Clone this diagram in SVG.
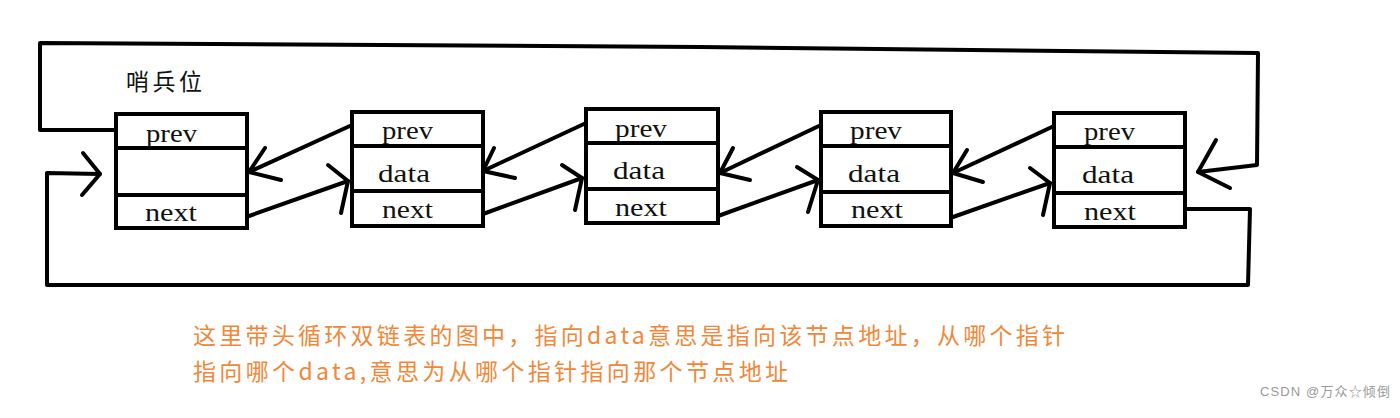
<svg xmlns="http://www.w3.org/2000/svg" width="1400" height="418" viewBox="0 0 1400 418">
<style>
.box{fill:#fff;stroke:#000;stroke-width:4}
.div{stroke:#000;stroke-width:4}
.ln{fill:none;stroke:#000;stroke-width:4;stroke-linecap:round;stroke-linejoin:round}
.lbl{font-family:"Liberation Serif","DejaVu Serif",serif;font-size:25px;fill:#111}
.note{font-family:"Noto Sans CJK SC",sans-serif;font-size:23px;fill:#F0883A}
.title{font-family:"Noto Sans CJK SC",sans-serif;font-size:23px;fill:#111}
.wm{font-family:"Liberation Sans","Noto Sans CJK SC",sans-serif;font-size:13px;fill:#999}
</style>
<rect width="1400" height="418" fill="#fff"/>
<text class="title" x="126" y="90" textLength="76">哨兵位</text>
<g id="connectors">
  <polyline class="ln" points="116,130 40,130 40,43 700,47 1258,53 1257,165 1198,172"/>
  <polyline class="ln" points="1216,140 1198,172 1230,188"/>
  <polyline class="ln" points="1185,209 1250,209 1248,285 47,285 47,173 100,174"/>
  <polyline class="ln" points="83,153 100,174 82,195"/>
  <line class="ln" x1="352" y1="125" x2="249" y2="172"/>
  <polyline class="ln" points="265,148 249,172 281,180"/>
  <line class="ln" x1="249" y1="216" x2="348" y2="181"/>
  <polyline class="ln" points="328,165 348,181 341,213"/>
  <line class="ln" x1="586" y1="123" x2="483" y2="171"/>
  <polyline class="ln" points="494,148 483,171 515,178"/>
  <line class="ln" x1="483" y1="214" x2="582" y2="178"/>
  <polyline class="ln" points="562,165 582,178 575,210"/>
  <line class="ln" x1="821" y1="125" x2="720" y2="173"/>
  <polyline class="ln" points="733,148 720,173 750,180"/>
  <line class="ln" x1="718" y1="216" x2="818" y2="180"/>
  <polyline class="ln" points="797,167 818,180 808,212"/>
  <line class="ln" x1="1054" y1="126" x2="953" y2="173"/>
  <polyline class="ln" points="967,150 953,173 983,182"/>
  <line class="ln" x1="953" y1="217" x2="1050" y2="183"/>
  <polyline class="ln" points="1030,168 1050,183 1043,215"/>
</g>
<g id="node1">
  <rect class="box" x="116" y="114" width="131" height="114"/>
  <line class="div" x1="116" y1="148" x2="247" y2="148"/>
  <line class="div" x1="116" y1="195" x2="247" y2="195"/>
  <text class="lbl" x="146" y="142" textLength="51" lengthAdjust="spacingAndGlyphs">prev</text>
  <text class="lbl" x="145" y="221" textLength="52" lengthAdjust="spacingAndGlyphs">next</text>
</g>
<g id="node2">
  <rect class="box" x="352" y="112" width="131" height="114"/>
  <line class="div" x1="352" y1="146" x2="483" y2="146"/>
  <line class="div" x1="352" y1="191" x2="483" y2="191"/>
  <text class="lbl" x="382" y="139" textLength="51" lengthAdjust="spacingAndGlyphs">prev</text>
  <text class="lbl" x="378" y="182" textLength="52" lengthAdjust="spacingAndGlyphs">data</text>
  <text class="lbl" x="382" y="218" textLength="51" lengthAdjust="spacingAndGlyphs">next</text>
</g>
<g id="node3">
  <rect class="box" x="586" y="109" width="132" height="114"/>
  <line class="div" x1="586" y1="143" x2="718" y2="143"/>
  <line class="div" x1="586" y1="189" x2="718" y2="189"/>
  <text class="lbl" x="615" y="137" textLength="52" lengthAdjust="spacingAndGlyphs">prev</text>
  <text class="lbl" x="613" y="179" textLength="52" lengthAdjust="spacingAndGlyphs">data</text>
  <text class="lbl" x="615" y="216" textLength="52" lengthAdjust="spacingAndGlyphs">next</text>
</g>
<g id="node4">
  <rect class="box" x="821" y="112" width="130" height="114"/>
  <line class="div" x1="821" y1="146" x2="951" y2="146"/>
  <line class="div" x1="821" y1="192" x2="951" y2="192"/>
  <text class="lbl" x="850" y="139" textLength="52" lengthAdjust="spacingAndGlyphs">prev</text>
  <text class="lbl" x="848" y="182" textLength="52" lengthAdjust="spacingAndGlyphs">data</text>
  <text class="lbl" x="851" y="218" textLength="52" lengthAdjust="spacingAndGlyphs">next</text>
</g>
<g id="node5">
  <rect class="box" x="1054" y="113" width="131" height="114"/>
  <line class="div" x1="1054" y1="147" x2="1185" y2="147"/>
  <line class="div" x1="1054" y1="193" x2="1185" y2="193"/>
  <text class="lbl" x="1084" y="140" textLength="51" lengthAdjust="spacingAndGlyphs">prev</text>
  <text class="lbl" x="1082" y="183" textLength="52" lengthAdjust="spacingAndGlyphs">data</text>
  <text class="lbl" x="1084" y="220" textLength="52" lengthAdjust="spacingAndGlyphs">next</text>
</g>
<g id="note">
  <text class="note" x="193" y="344" textLength="872">这里带头循环双链表的图中，指向data意思是指向该节点地址，从哪个指针</text>
  <text class="note" x="193" y="380" textLength="595">指向哪个data,意思为从哪个指针指向那个节点地址</text>
</g>
<text class="wm" x="1260" y="396" textLength="130">CSDN @万众☆倾倒</text>
</svg>
